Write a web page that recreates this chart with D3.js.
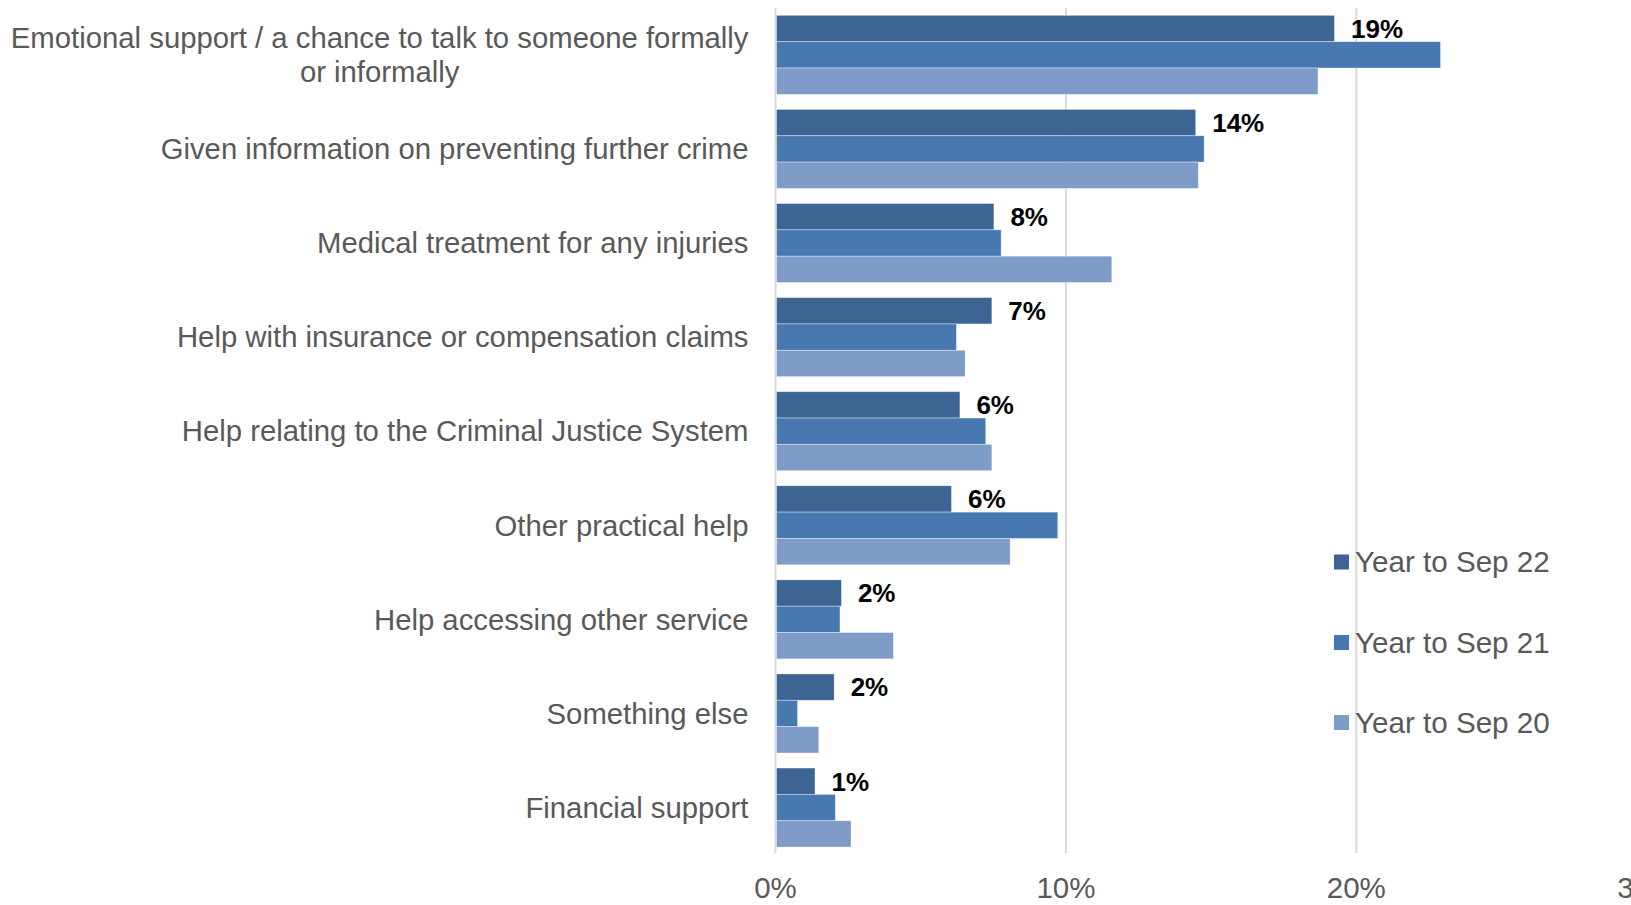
<!DOCTYPE html>
<html>
<head>
<meta charset="utf-8">
<script src="https://cdn.jsdelivr.net/npm/d3@7"></script>
<style>
  html, body { margin: 0; padding: 0; background: #fff; }
  svg { display: block; font-family: "Liberation Sans", Arial, sans-serif; }
</style>
</head>
<body>
<svg id="chart" width="1631" height="905"></svg>
<script>
// ---- data ----
const categories = [
  ["Emotional support / a chance to talk to someone formally", "or informally"],
  ["Given information on preventing further crime"],
  ["Medical treatment for any injuries"],
  ["Help with insurance or compensation claims"],
  ["Help relating to the Criminal Justice System"],
  ["Other practical help"],
  ["Help accessing other service"],
  ["Something else"],
  ["Financial support"]
];
const seriesNames = ["Year to Sep 22", "Year to Sep 21", "Year to Sep 20"];
const sep22 = [19.25, 14.47, 7.52, 7.45, 6.35, 6.06, 2.27, 2.02, 1.36];
const sep21 = [22.9, 14.76, 7.77, 6.23, 7.24, 9.72, 2.22, 0.76, 2.06];
const sep20 = [18.68, 14.56, 11.58, 6.53, 7.45, 8.08, 4.06, 1.49, 2.6];
const sep22Labels = ["19%", "14%", "8%", "7%", "6%", "6%", "2%", "2%", "1%"];
const xTicks = [0, 10, 20, 30];
const colors = ["#3c6594", "#4878b0", "#7f9bc7"];

// ---- layout ----
const svg = d3.select("#chart");
const x0 = 775.5, xPer10 = 290.4;
const x = d3.scaleLinear().domain([0, 30]).range([x0, x0 + 3 * xPer10]);
const y = d3.scaleBand().domain(d3.range(categories.length)).range([7.8, 854.6])
  .paddingInner(0.16).paddingOuter(0.08);
const ySub = d3.scaleBand().domain(d3.range(3)).range([0, y.bandwidth()]);
const series = [sep22, sep21, sep20];

// gridlines
const gridTop = 8, gridBottom = 853;
svg.append("g").selectAll("line").data(xTicks).join("line")
  .attr("x1", d => x(d)).attr("x2", d => x(d))
  .attr("y1", gridTop).attr("y2", gridBottom)
  .attr("stroke", "#d9d9d9").attr("stroke-width", 2);

// x tick labels
svg.append("g").selectAll("text").data(xTicks).join("text")
  .attr("x", d => x(d)).attr("y", 898)
  .attr("text-anchor", "middle")
  .attr("font-size", 29.5).attr("fill", "#595959")
  .text(d => d + "%");

// bars
series.forEach((vals, si) => {
  svg.append("g").selectAll("rect").data(vals).join("rect")
    .attr("x", x(0) + 1)
    .attr("y", (d, i) => y(i) + ySub(si))
    .attr("width", d => x(d) - x(0) - 1)
    .attr("height", ySub.bandwidth())
    .attr("fill", colors[si])
    .attr("stroke", "#ffffff").attr("stroke-opacity", 0.45).attr("stroke-width", 0.8);
});

// data labels for Sep 22
svg.append("g").selectAll("text").data(sep22).join("text")
  .attr("x", d => x(d) + 16.5)
  .attr("y", (d, i) => y(i) + ySub(0) + ySub.bandwidth() / 2)
  .attr("dy", "0.36em")
  .attr("font-size", 26).attr("font-weight", "bold").attr("fill", "#000")
  .text((d, i) => sep22Labels[i]);

// category labels
const labelRight = 748.5;
const labFont = 29.3;
const labG = svg.append("g");
categories.forEach((lines, i) => {
  const cy = y(i) + y.bandwidth() / 2;
  if (lines.length === 1) {
    labG.append("text")
      .attr("x", labelRight).attr("y", cy).attr("dy", "0.35em")
      .attr("text-anchor", "end").attr("font-size", labFont).attr("fill", "#595959")
      .text(lines[0]);
  } else {
    const lh = 34;
    const t0 = labG.append("text")
      .attr("x", labelRight).attr("y", cy - lh / 2).attr("dy", "0.35em")
      .attr("text-anchor", "end").attr("font-size", labFont).attr("fill", "#595959")
      .text(lines[0]);
    const w = t0.node().getComputedTextLength();
    const cx = labelRight - w / 2;
    for (let k = 1; k < lines.length; k++) {
      labG.append("text")
        .attr("x", cx).attr("y", cy - lh / 2 + k * lh).attr("dy", "0.35em")
        .attr("text-anchor", "middle").attr("font-size", labFont).attr("fill", "#595959")
        .text(lines[k]);
    }
  }
});

// legend
const legY = [562, 642.5, 722.5];
const leg = svg.append("g");
seriesNames.forEach((name, i) => {
  leg.append("rect").attr("x", 1334).attr("y", legY[i] - 7.5)
    .attr("width", 15).attr("height", 15).attr("fill", colors[i]);
  leg.append("text").attr("x", 1355).attr("y", legY[i]).attr("dy", "0.35em")
    .attr("font-size", 29.6).attr("fill", "#595959").text(name);
});
</script>
</body>
</html>
